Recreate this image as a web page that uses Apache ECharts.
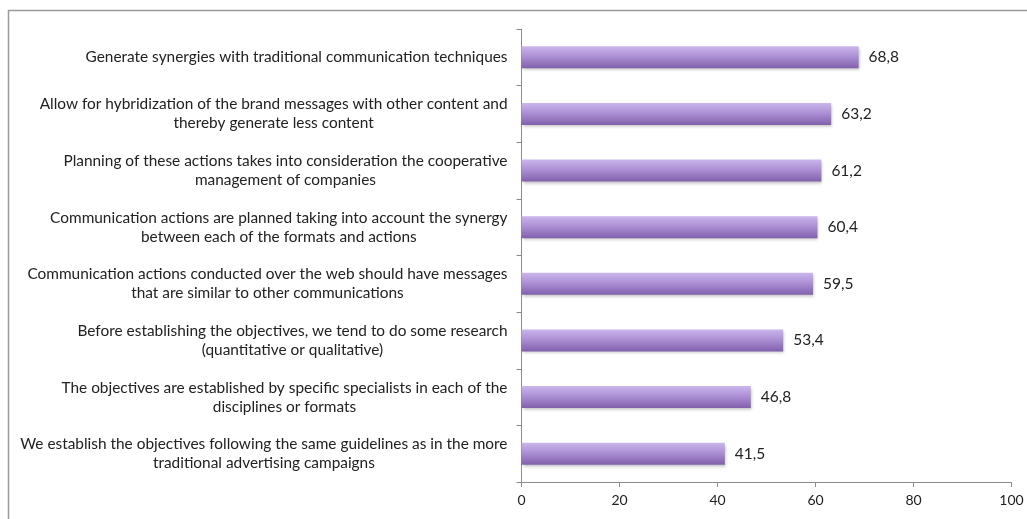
<!DOCTYPE html>
<html>
<head>
<meta charset="utf-8">
<script src="https://cdn.jsdelivr.net/npm/echarts@6/dist/echarts.min.js"></script>
<style>
  html, body { margin: 0; padding: 0; background: #fff; }
  #chart { width: 1027px; height: 519px; }
</style>
</head>
<body>
<div id="chart"></div>
<script>
// Statements, listed bottom-to-top as drawn on the category axis
const categories = [
  'We establish the objectives following the same guidelines as in the more\ntraditional advertising campaigns',
  'The objectives are established by specific specialists in each of the\ndisciplines or formats',
  'Before establishing the objectives, we tend to do some research\n(quantitative or qualitative)',
  'Communication actions conducted over the web should have messages\nthat are similar to other communications',
  'Communication actions are planned taking into account the synergy\nbetween each of the formats and actions',
  'Planning of these actions takes into consideration the cooperative\nmanagement of companies',
  'Allow for hybridization of the brand messages with other content and\nthereby generate less content',
  'Generate synergies with traditional communication techniques'
];
const values = [41.5, 46.8, 53.4, 59.5, 60.4, 61.2, 63.2, 68.8];
const xTicks = [0, 20, 40, 60, 80, 100];

const font = 'Lato, "Open Sans", sans-serif';
const chart = echarts.init(document.getElementById('chart'));

chart.setOption({
  animation: false,
  backgroundColor: '#fff',
  graphic: [{
    type: 'rect',
    shape: { x: 8.5, y: 10.5, width: 1100, height: 600 },
    style: { fill: 'none', stroke: '#9a9a9a', lineWidth: 1.5 },
    silent: true
  }],
  grid: { left: 521.5, right: 15.5, top: 29, bottom: 37 },
  xAxis: {
    type: 'value',
    min: xTicks[0],
    max: xTicks[xTicks.length - 1],
    interval: 20,
    axisLine: { show: true, lineStyle: { color: '#8c8c8c', width: 1 } },
    axisTick: { show: true, length: 5, lineStyle: { color: '#8c8c8c' } },
    splitLine: { show: false },
    axisLabel: { color: '#222', fontFamily: font, fontSize: 14, margin: 11 }
  },
  yAxis: {
    type: 'category',
    data: categories,
    axisLine: { show: true, lineStyle: { color: '#8c8c8c', width: 1 } },
    axisTick: { show: true, length: 5, lineStyle: { color: '#8c8c8c' } },
    axisLabel: {
      margin: 14,
      align: 'right',
      lineHeight: 19,
      formatter: v => v.split('\n').map(l => '{c|' + l + '}').join('\n'),
      rich: {
        c: { align: 'center', color: '#222', fontFamily: font, fontSize: 15.4, lineHeight: 19 }
      }
    }
  },
  series: [{
    type: 'bar',
    data: values,
    barWidth: 22,
    itemStyle: {
      color: new echarts.graphic.LinearGradient(0, 0, 0, 1, [
        { offset: 0, color: '#cbb6ec' },
        { offset: 0.5, color: '#a98cd2' },
        { offset: 1, color: '#8160ab' }
      ]),
      shadowColor: 'rgba(0,0,0,0.25)',
      shadowBlur: 3,
      shadowOffsetX: 1,
      shadowOffsetY: 2
    },
    label: {
      show: true,
      position: 'right',
      distance: 10,
      color: '#222',
      fontFamily: font,
      fontSize: 15.5,
      formatter: p => p.value.toFixed(1).replace('.', ',')
    }
  }]
});
</script>
</body>
</html>
